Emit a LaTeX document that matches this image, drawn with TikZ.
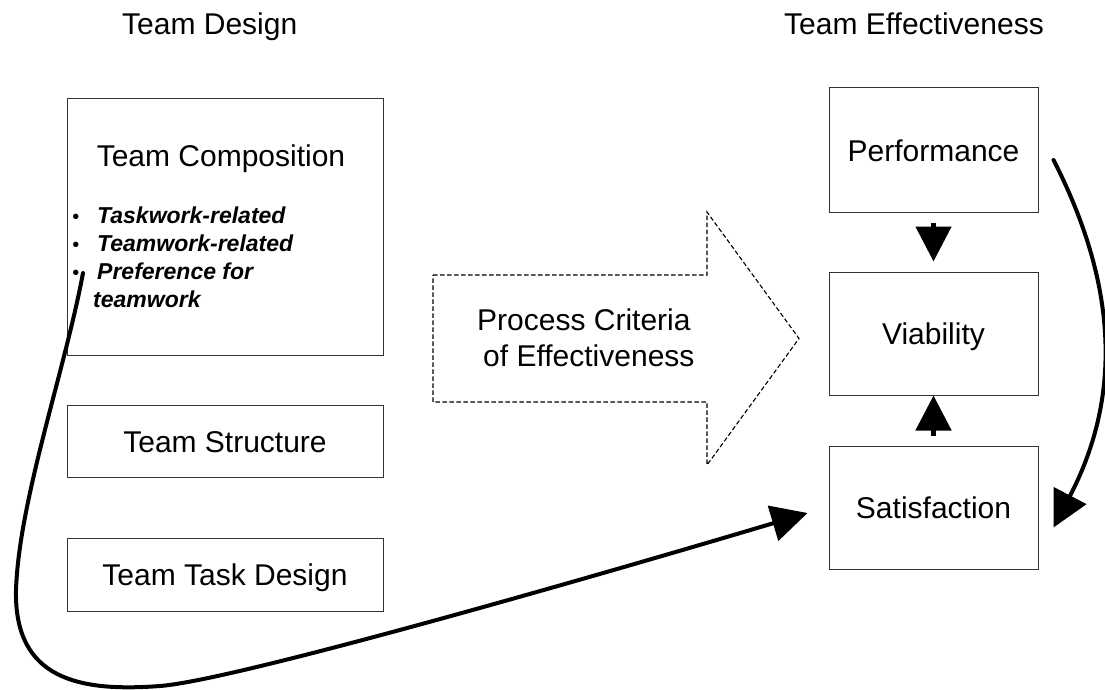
\documentclass[tikz,border=0pt]{standalone}
\usepackage{fontspec}
\setmainfont{Liberation Sans}
\usetikzlibrary{arrows.meta}
\begin{document}
\begin{tikzpicture}[x=1pt,y=-1pt,
  box/.style={draw=black!80, line width=1pt, inner sep=0pt, text height=22pt, text depth=0pt,
    font=\fontsize{30}{36}\selectfont},
  lbl/.style={inner sep=0pt, font=\fontsize{30}{36}\selectfont},
  blt/.style={inner sep=0pt, font=\fontsize{23}{28}\selectfont\bfseries\itshape},
  dot/.style={inner sep=0pt, font=\fontsize{20}{24}\selectfont},
  shortarrow/.style={line width=5pt, -{Triangle[length=35pt,width=35pt]}},
  curvearrow/.style={line width=4pt, line cap=round, -{Triangle[length=36pt,width=36pt]}},
  dasharrow/.style={draw=black, line width=1.1pt, dash pattern=on 4.5pt off 2.5pt}]
\useasboundingbox (0,0) rectangle (1105,690);

% headers
\node[lbl, anchor=base west] (hdesign) at (122,35) {Team Design};
\node[lbl, anchor=base west] (heff) at (784,35) {Team Effectiveness};

% left boxes
\node[draw=black!80, line width=1pt, minimum width=316pt, minimum height=256pt, inner sep=0pt] (comp) at (225,227) {};
\node[lbl, anchor=base] (comptxt) at (221,166) {Team Composition};
\node[dot, anchor=base] (b1) at (76,223) {•};
\node[dot, anchor=base] (b2) at (76,251) {•};
\node[dot, anchor=base] (b3) at (76,279) {•};
\node[blt, anchor=base west] (t1) at (97,223) {Taskwork-related};
\node[blt, anchor=base west] (t2) at (97,251) {Teamwork-related};
\node[blt, anchor=base west] (t3) at (97,279) {Preference for};
\node[blt, anchor=base west] (t4) at (93,307) {teamwork};
\coordinate (pstart) at (83,273);

\node[box, minimum width=316pt, minimum height=72pt] (struct) at (225,441) {Team Structure};
\node[box, minimum width=316pt, minimum height=73pt] (task) at (225,574.5) {Team Task Design};

% right boxes
\node[box, minimum width=209pt, minimum height=124pt] (perf) at (933.5,150) {Performance};
\node[box, minimum width=209pt, minimum height=123pt] (via) at (933.5,333.5) {Viability};
\node[box, minimum width=209pt, minimum height=123pt] (sat) at (933.5,507.5) {Satisfaction};

% dashed block arrow
\draw[dasharrow] (433,275) -- (707,275) -- (707,212) -- (799,338.5) -- (707,465) -- (707,402) -- (433,402) -- cycle;
\node[lbl, anchor=base west] (pc1) at (477,330) {Process Criteria};
\node[lbl, anchor=base west] (pc2) at (483,366) {of Effectiveness};

% short arrows
\draw[shortarrow] ([yshift=-10pt]perf.south) -- ([yshift=10pt]via.north);
\draw[shortarrow] ([yshift=10pt]sat.north) -- (via.south);

% curved arrows
\draw[curvearrow] ([xshift=15pt,yshift=-10pt]perf.east) .. controls (1120,290) and (1120,400) .. ([xshift=15pt,yshift=-20pt]sat.east);
\draw[curvearrow] (pstart) .. controls (65,370) and (19,500) .. (16,590)
  .. controls (14,680) and (80,692) .. (160,686)
  .. controls (240,680) and (650,560) .. ([xshift=-21pt,yshift=-5.5pt]sat.west);
\end{tikzpicture}
\end{document}
